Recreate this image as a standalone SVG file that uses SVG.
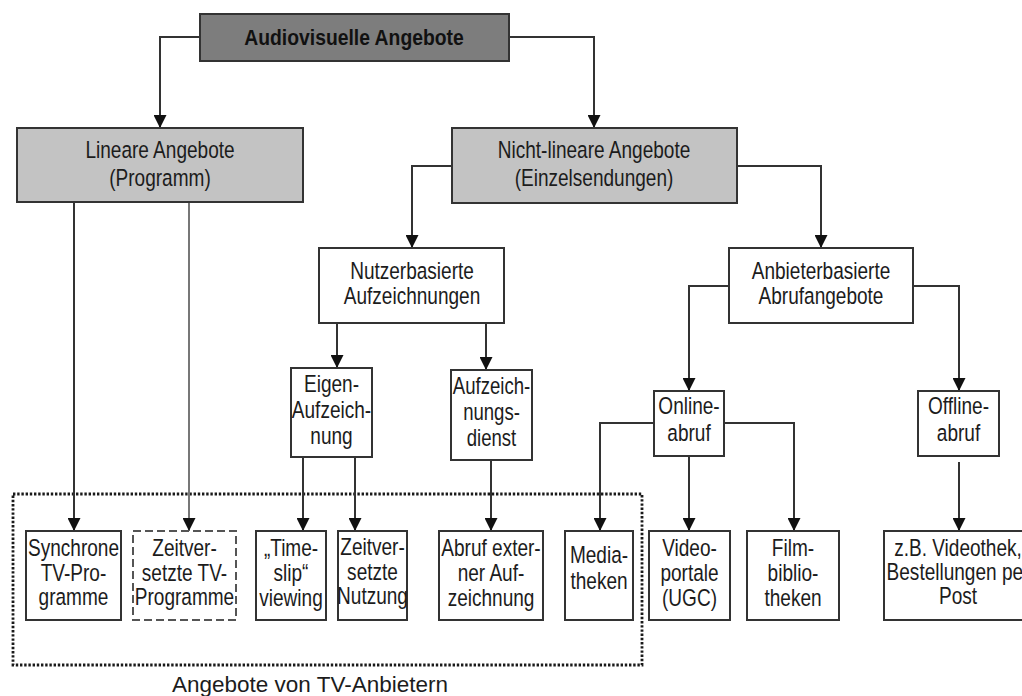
<svg xmlns="http://www.w3.org/2000/svg" width="1022" height="696" viewBox="0 0 1022 696">
<style>
.t{font-family:"Liberation Sans",Arial,sans-serif;font-size:23.5px;fill:#1c1c1c;text-anchor:middle}
.b{font-family:"Liberation Sans",Arial,sans-serif;font-size:22.5px;font-weight:bold;fill:#111;text-anchor:middle}
.box{fill:#fff;stroke:#333;stroke-width:2}
.dark{fill:#7d7d7d;stroke:#333;stroke-width:2}
.gray{fill:#c3c3c3;stroke:#333;stroke-width:2}
.dash{fill:#fff;stroke:#555;stroke-width:2;stroke-dasharray:8 4}
.con{fill:none;stroke:#333;stroke-width:2;marker-end:url(#arr)}
</style>
<defs>
<marker id="arr" markerUnits="userSpaceOnUse" markerWidth="13" markerHeight="13" refX="13" refY="6.5" orient="auto" viewBox="0 0 13 13">
<path d="M0,0 L13,6.5 L0,13 z" fill="#111"/>
</marker>
</defs>
<rect width="1022" height="696" fill="#fff"/>

<g id="group-tv">
<rect x="13" y="494" width="629" height="171" fill="none" stroke="#1a1a1a" stroke-width="2.8" stroke-dasharray="2.4 1.8"/>
<text x="172" y="692" style="font-family:'Liberation Sans',Arial,sans-serif;font-size:22.5px;fill:#1c1c1c">Angebote von TV-Anbietern</text>
</g>

<g id="connectors">
<path class="con" d="M200,37 H160 V128"/>
<path class="con" d="M509,37 H594 V128"/>
<path class="con" d="M74,202 V531"/>
<path class="con" d="M189,202 V531" style="stroke:#777"/>
<path class="con" d="M452,166 H412 V248"/>
<path class="con" d="M737,166 H821 V248"/>
<path class="con" d="M337,323 V368"/>
<path class="con" d="M486,323 V370"/>
<path class="con" d="M303,457 V531"/>
<path class="con" d="M355,457 V531"/>
<path class="con" d="M491,460 V531"/>
<path class="con" d="M729,286 H689 V391"/>
<path class="con" d="M913,286 H959 V391"/>
<path class="con" d="M654,423 H600 V531"/>
<path class="con" d="M689,456 V531"/>
<path class="con" d="M724,423 H794 V531"/>
<path class="con" d="M959,462 V531"/>
</g>

<g id="n-audiovisuell">
<rect class="dark" x="200" y="14" width="309" height="47"/>
<g transform="translate(354,0) scale(0.86,1)"><text class="b"><tspan x="0" y="45">Audiovisuelle Angebote</tspan></text></g>
</g>

<g id="n-linear">
<rect class="gray" x="17" y="128" width="286" height="74"/>
<g transform="translate(160,0) scale(0.81,1)"><text class="t"><tspan x="0" y="158">Lineare Angebote</tspan><tspan x="0" y="186">(Programm)</tspan></text></g>
</g>

<g id="n-nichtlinear">
<rect class="gray" x="452" y="128" width="285" height="75"/>
<g transform="translate(594,0) scale(0.81,1)"><text class="t"><tspan x="0" y="158">Nicht-lineare Angebote</tspan><tspan x="0" y="186">(Einzelsendungen)</tspan></text></g>
</g>

<g id="n-nutzer">
<rect class="box" x="319" y="248" width="185" height="75"/>
<g transform="translate(412,0) scale(0.81,1)"><text class="t"><tspan x="0" y="279">Nutzerbasierte</tspan><tspan x="0" y="304">Aufzeichnungen</tspan></text></g>
</g>

<g id="n-anbieter">
<rect class="box" x="729" y="248" width="184" height="75"/>
<g transform="translate(821,0) scale(0.81,1)"><text class="t"><tspan x="0" y="279">Anbieterbasierte</tspan><tspan x="0" y="304">Abrufangebote</tspan></text></g>
</g>

<g id="n-eigen">
<rect class="box" x="291" y="368" width="81" height="89"/>
<g transform="translate(331.5,0) scale(0.81,1)"><text class="t"><tspan x="0" y="392">Eigen-</tspan><tspan x="0" y="418">Aufzeich-</tspan><tspan x="0" y="444">nung</tspan></text></g>
</g>

<g id="n-aufzdienst">
<rect class="box" x="451" y="370" width="81" height="90"/>
<g transform="translate(491.5,0) scale(0.79,1)"><text class="t"><tspan x="0" y="394">Aufzeich-</tspan><tspan x="0" y="420">nungs-</tspan><tspan x="0" y="446">dienst</tspan></text></g>
</g>

<g id="n-online">
<rect class="box" x="654" y="391" width="70" height="65"/>
<g transform="translate(689,0) scale(0.81,1)"><text class="t"><tspan x="0" y="414">Online-</tspan><tspan x="0" y="441">abruf</tspan></text></g>
</g>

<g id="n-offline">
<rect class="box" x="918" y="391" width="81" height="65"/>
<g transform="translate(958.5,0) scale(0.81,1)"><text class="t"><tspan x="0" y="414">Offline-</tspan><tspan x="0" y="441">abruf</tspan></text></g>
</g>

<g id="n-synchron">
<rect class="box" x="26" y="531" width="95" height="89"/>
<g transform="translate(73.5,0) scale(0.81,1)"><text class="t"><tspan x="0" y="556">Synchrone</tspan><tspan x="0" y="581">TV-Pro-</tspan><tspan x="0" y="605">gramme</tspan></text></g>
</g>

<g id="n-zeitvtv">
<rect class="dash" x="133" y="531" width="103" height="89"/>
<g transform="translate(184.5,0) scale(0.81,1)"><text class="t"><tspan x="0" y="556">Zeitver-</tspan><tspan x="0" y="581">setzte TV-</tspan><tspan x="0" y="605">Programme</tspan></text></g>
</g>

<g id="n-timeslip">
<rect class="box" x="256" y="531" width="70" height="89"/>
<g transform="translate(291,0) scale(0.81,1)"><text class="t"><tspan x="0" y="556">„Time-</tspan><tspan x="0" y="581">slip“</tspan><tspan x="0" y="606">viewing</tspan></text></g>
</g>

<g id="n-zeitvnutzung">
<rect class="box" x="338" y="531" width="69" height="89"/>
<g transform="translate(372.5,0) scale(0.81,1)"><text class="t"><tspan x="0" y="555">Zeitver-</tspan><tspan x="0" y="580">setzte</tspan><tspan x="0" y="604">Nutzung</tspan></text></g>
</g>

<g id="n-abruf">
<rect class="box" x="439" y="531" width="104" height="89"/>
<g transform="translate(491,0) scale(0.81,1)"><text class="t"><tspan x="0" y="556">Abruf exter-</tspan><tspan x="0" y="581">ner Auf-</tspan><tspan x="0" y="606">zeichnung</tspan></text></g>
</g>

<g id="n-mediatheken">
<rect class="box" x="565" y="531" width="68" height="89"/>
<g transform="translate(599,0) scale(0.81,1)"><text class="t"><tspan x="0" y="563">Media-</tspan><tspan x="0" y="589">theken</tspan></text></g>
</g>

<g id="n-video">
<rect class="box" x="649" y="531" width="81" height="89"/>
<g transform="translate(689.5,0) scale(0.81,1)"><text class="t"><tspan x="0" y="556">Video-</tspan><tspan x="0" y="581">portale</tspan><tspan x="0" y="606">(UGC)</tspan></text></g>
</g>

<g id="n-film">
<rect class="box" x="747" y="531" width="92" height="89"/>
<g transform="translate(793,0) scale(0.81,1)"><text class="t"><tspan x="0" y="556">Film-</tspan><tspan x="0" y="581">biblio-</tspan><tspan x="0" y="606">theken</tspan></text></g>
</g>

<g id="n-zb">
<rect class="box" x="884" y="531" width="150" height="89"/>
<g transform="translate(958,0) scale(0.81,1)"><text class="t"><tspan x="0" y="556">z.B. Videothek,</tspan><tspan x="0" y="580">Bestellungen per</tspan><tspan x="0" y="604">Post</tspan></text></g>
</g>
</svg>
